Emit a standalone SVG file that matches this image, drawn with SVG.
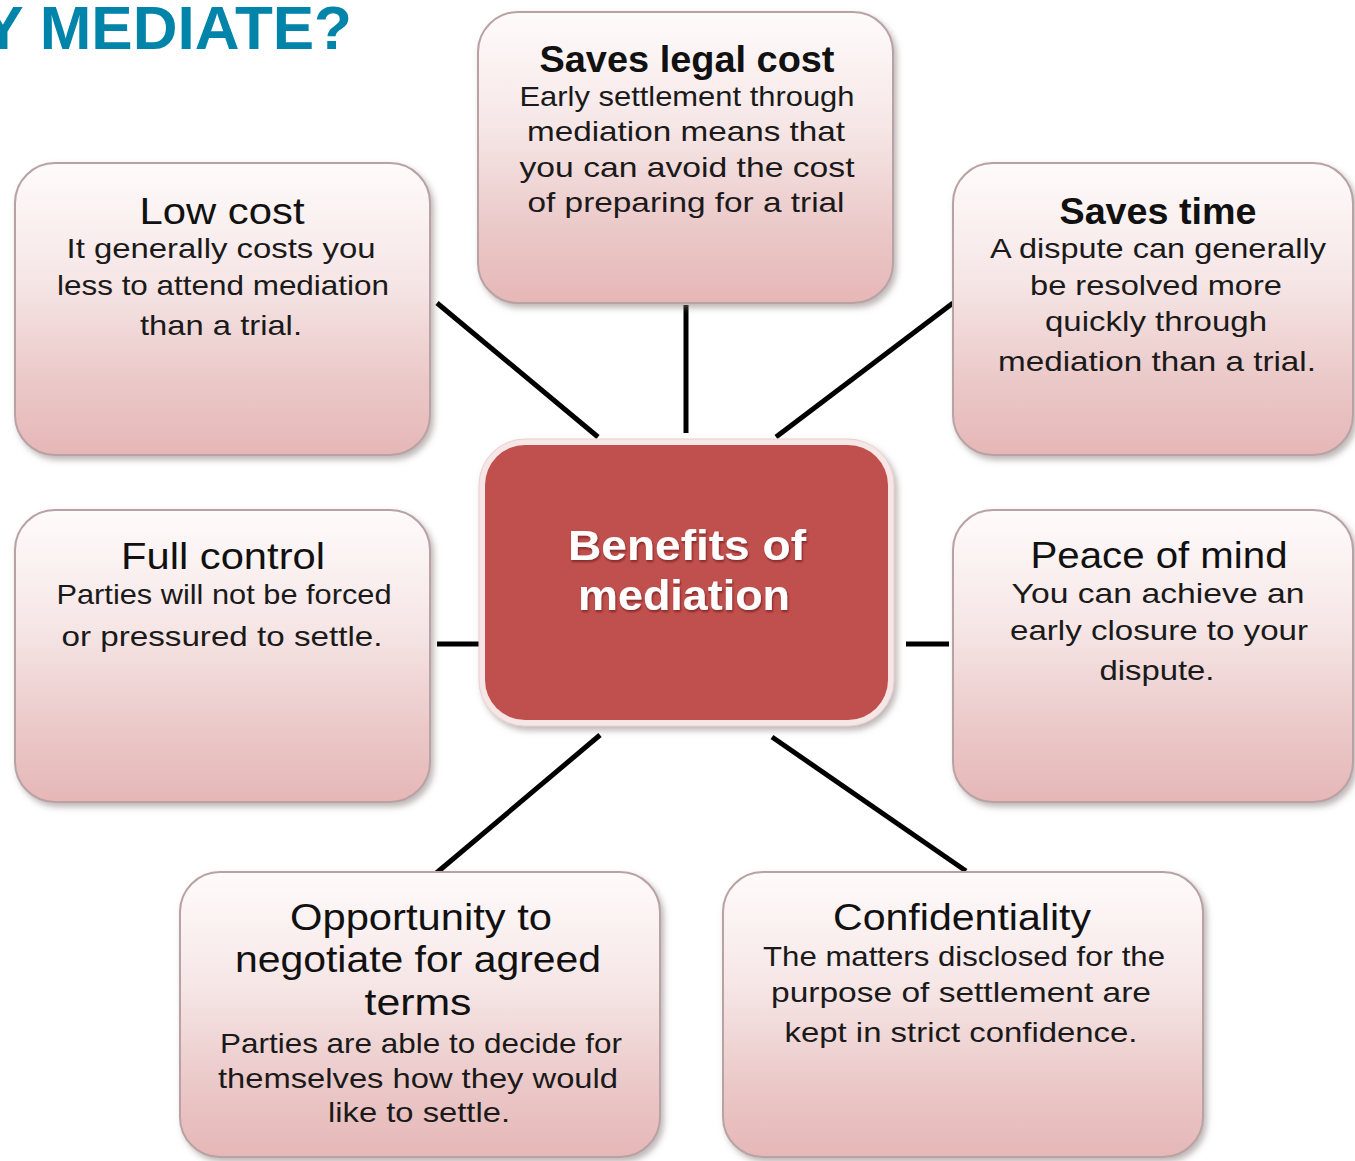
<svg xmlns="http://www.w3.org/2000/svg" width="1355" height="1161" viewBox="0 0 1355 1161">
<defs>
<linearGradient id="boxGrad" x1="0" y1="0" x2="0" y2="1">
<stop offset="0" stop-color="#FFFBFB"/>
<stop offset="0.4" stop-color="#F6E6E6"/>
<stop offset="0.75" stop-color="#EBC8C8"/>
<stop offset="1" stop-color="#E6B7B7"/>
</linearGradient>
<filter id="shadow" x="-10%" y="-10%" width="125%" height="125%">
<feGaussianBlur in="SourceAlpha" stdDeviation="3"/>
<feOffset dx="3" dy="4" result="b"/>
<feFlood flood-color="#8a7a7a" flood-opacity="0.55"/>
<feComposite in2="b" operator="in"/>
<feMerge><feMergeNode/><feMergeNode in="SourceGraphic"/></feMerge>
</filter>
<filter id="tshadow" x="-10%" y="-20%" width="120%" height="150%">
<feGaussianBlur in="SourceAlpha" stdDeviation="1.2"/>
<feOffset dx="1" dy="2" result="b"/>
<feFlood flood-color="#5a1010" flood-opacity="0.6"/>
<feComposite in2="b" operator="in"/>
<feMerge><feMergeNode/><feMergeNode in="SourceGraphic"/></feMerge>
</filter>
</defs>
<style>
.box{fill:url(#boxGrad);stroke:#B8A2A4;stroke-width:2;filter:url(#shadow)}
.t{font-family:"Liberation Sans",Arial,sans-serif;font-size:37px;fill:#111;text-anchor:middle}
.tb{font-weight:bold}
.b{font-family:"Liberation Sans",Arial,sans-serif;font-size:28px;fill:#1a1a1a;text-anchor:middle}
.c{font-family:"Liberation Sans",Arial,sans-serif;font-size:42px;font-weight:bold;fill:#FFFFFF;text-anchor:middle;filter:url(#tshadow)}
.conn{stroke:#000;stroke-width:5;fill:none}
</style>
<rect width="1355" height="1161" fill="#FFFFFF"/>

<text x="352" y="49" text-anchor="end" font-family="Liberation Sans,Arial,sans-serif" font-size="62" font-weight="bold" fill="#0084A9">Y MEDIATE?</text>

<g id="connectors">
<line class="conn" x1="437" y1="303" x2="598" y2="437"/>
<line class="conn" x1="686" y1="305" x2="686" y2="433"/>
<line class="conn" x1="953" y1="303" x2="776" y2="437"/>
<line class="conn" x1="437" y1="644" x2="479" y2="644"/>
<line class="conn" x1="906" y1="644" x2="949" y2="644"/>
<line class="conn" x1="600" y1="735" x2="434" y2="875"/>
<line class="conn" x1="772" y1="737" x2="966" y2="871"/>
</g>

<g id="center">
<rect x="479" y="439" width="415" height="287" rx="46" fill="#F7E6E6" stroke="#E8D0D0" stroke-width="1" filter="url(#shadow)"/>
<rect x="485" y="445" width="403" height="275" rx="40" fill="#C0504D"/>
<text class="c" x="687" y="560" textLength="238" lengthAdjust="spacingAndGlyphs">Benefits of</text>
<text class="c" x="684" y="610" textLength="212" lengthAdjust="spacingAndGlyphs">mediation</text>
</g>

<g id="saves-legal-cost">
<rect class="box" x="478" y="12" width="415" height="291" rx="40"/>
<text class="t tb" x="687" y="72" textLength="295" lengthAdjust="spacingAndGlyphs">Saves legal cost</text>
<text class="b" x="687" y="106" textLength="335" lengthAdjust="spacingAndGlyphs">Early settlement through</text>
<text class="b" x="686" y="141" textLength="318" lengthAdjust="spacingAndGlyphs">mediation means that</text>
<text class="b" x="687" y="177" textLength="335" lengthAdjust="spacingAndGlyphs">you can avoid the cost</text>
<text class="b" x="686" y="212" textLength="317" lengthAdjust="spacingAndGlyphs">of preparing for a trial</text>
</g>

<g id="low-cost">
<rect class="box" x="15" y="163" width="415" height="292" rx="40"/>
<text class="t" x="222" y="224" textLength="165" lengthAdjust="spacingAndGlyphs">Low cost</text>
<text class="b" x="221" y="258" textLength="309" lengthAdjust="spacingAndGlyphs">It generally costs you</text>
<text class="b" x="223" y="295" textLength="332" lengthAdjust="spacingAndGlyphs">less to attend mediation</text>
<text class="b" x="221" y="335" textLength="162" lengthAdjust="spacingAndGlyphs">than a trial.</text>
</g>

<g id="saves-time">
<rect class="box" x="953" y="163" width="400" height="292" rx="40"/>
<text class="t tb" x="1158" y="224" textLength="197" lengthAdjust="spacingAndGlyphs">Saves time</text>
<text class="b" x="1158" y="258" textLength="336" lengthAdjust="spacingAndGlyphs">A dispute can generally</text>
<text class="b" x="1156" y="295" textLength="252" lengthAdjust="spacingAndGlyphs">be resolved more</text>
<text class="b" x="1156" y="331" textLength="222" lengthAdjust="spacingAndGlyphs">quickly through</text>
<text class="b" x="1157" y="371" textLength="318" lengthAdjust="spacingAndGlyphs">mediation than a trial.</text>
</g>

<g id="full-control">
<rect class="box" x="15" y="510" width="415" height="292" rx="40"/>
<text class="t" x="223" y="569" textLength="204" lengthAdjust="spacingAndGlyphs">Full control</text>
<text class="b" x="224" y="604" textLength="335" lengthAdjust="spacingAndGlyphs">Parties will not be forced</text>
<text class="b" x="222" y="646" textLength="321" lengthAdjust="spacingAndGlyphs">or pressured to settle.</text>
</g>

<g id="peace-of-mind">
<rect class="box" x="953" y="510" width="400" height="292" rx="40"/>
<text class="t" x="1159" y="568" textLength="257" lengthAdjust="spacingAndGlyphs">Peace of mind</text>
<text class="b" x="1158" y="603" textLength="293" lengthAdjust="spacingAndGlyphs">You can achieve an</text>
<text class="b" x="1159" y="640" textLength="298" lengthAdjust="spacingAndGlyphs">early closure to your</text>
<text class="b" x="1157" y="680" textLength="115" lengthAdjust="spacingAndGlyphs">dispute.</text>
</g>

<g id="opportunity">
<rect class="box" x="180" y="872" width="480" height="285" rx="40"/>
<text class="t" x="421" y="930" textLength="262" lengthAdjust="spacingAndGlyphs">Opportunity to</text>
<text class="t" x="418" y="972" textLength="366" lengthAdjust="spacingAndGlyphs">negotiate for agreed</text>
<text class="t" x="418" y="1015" textLength="107" lengthAdjust="spacingAndGlyphs">terms</text>
<text class="b" x="421" y="1053" textLength="402" lengthAdjust="spacingAndGlyphs">Parties are able to decide for</text>
<text class="b" x="418" y="1088" textLength="400" lengthAdjust="spacingAndGlyphs">themselves how they would</text>
<text class="b" x="419" y="1122" textLength="182" lengthAdjust="spacingAndGlyphs">like to settle.</text>
</g>

<g id="confidentiality">
<rect class="box" x="723" y="872" width="480" height="285" rx="40"/>
<text class="t" x="962" y="930" textLength="258" lengthAdjust="spacingAndGlyphs">Confidentiality</text>
<text class="b" x="964" y="966" textLength="402" lengthAdjust="spacingAndGlyphs">The matters disclosed for the</text>
<text class="b" x="961" y="1002" textLength="380" lengthAdjust="spacingAndGlyphs">purpose of settlement are</text>
<text class="b" x="961" y="1042" textLength="353" lengthAdjust="spacingAndGlyphs">kept in strict confidence.</text>
</g>
</svg>
